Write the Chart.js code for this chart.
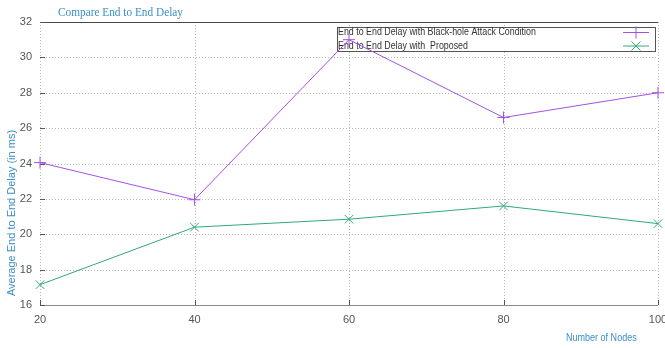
<!DOCTYPE html>
<html>
<head>
<meta charset="utf-8">
<script src="https://cdn.jsdelivr.net/npm/chart.js@4/dist/chart.umd.min.js"></script>
<style>
  html, body { margin: 0; padding: 0; background: #fff; }
  #wrap { width: 665px; height: 348px; position: relative; }
</style>
</head>
<body>
<div id="wrap"><canvas id="c" width="665" height="348"></canvas></div>
<script>
// Node counts along the x axis
const nodes = [20, 40, 60, 80, 100];
// Average end-to-end delay in ms
const blackHoleDelay = [24.05, 21.95, 31.0, 26.6, 28.0];
const proposedDelay = [17.15, 20.4, 20.85, 21.6, 20.6];
// Axis tick values
const xTicks = [20, 40, 60, 80, 100];
const yTicks = [16, 18, 20, 22, 24, 26, 28, 30, 32];

const seriesLabels = [
  'End to End Delay with Black-hole Attack Condition',
  'End to End Delay with  Proposed'
];
const purple = '#a451e4';
const green = '#2fa882';
const blue = '#3b8ec8';
const sans = '"Liberation Sans", Arial, sans-serif';

function pts(vals) { return nodes.map((n, i) => ({ x: n, y: vals[i] })); }

// text squeezed horizontally to get a condensed look
function narrowText(ctx, text, x, y, sx) {
  ctx.save();
  ctx.translate(x, y);
  ctx.scale(sx, 1);
  ctx.fillText(text, 0, 0);
  ctx.restore();
}

function drawMarker(ctx, style, x, y, r, color) {
  ctx.save();
  ctx.strokeStyle = color;
  ctx.lineWidth = 1;
  ctx.beginPath();
  if (style === 'cross') {
    ctx.moveTo(x - r, y); ctx.lineTo(x + r, y);
    ctx.moveTo(x, y - r); ctx.lineTo(x, y + r);
  } else {
    const d = r * 0.75;
    ctx.moveTo(x - d, y - d); ctx.lineTo(x + d, y + d);
    ctx.moveTo(x - d, y + d); ctx.lineTo(x + d, y - d);
  }
  ctx.stroke();
  ctx.restore();
}

const frame = {
  id: 'frame',
  beforeDatasetsDraw(chart) {
    const { ctx, chartArea: a, scales } = chart;
    ctx.save();
    // dotted grid
    ctx.strokeStyle = '#b8b8b8';
    ctx.lineWidth = 1;
    ctx.setLineDash([1, 2]);
    yTicks.forEach(v => {
      if (v === 16 || v === 32) return;
      const y = Math.round(scales.y.getPixelForValue(v)) + 0.5;
      ctx.beginPath(); ctx.moveTo(a.left, y); ctx.lineTo(a.right, y); ctx.stroke();
    });
    xTicks.forEach(v => {
      const x = Math.round(scales.x.getPixelForValue(v)) + 0.5;
      ctx.beginPath(); ctx.moveTo(x, a.top); ctx.lineTo(x, a.bottom); ctx.stroke();
    });
    ctx.setLineDash([]);
    // top and bottom borders
    ctx.strokeStyle = '#4a4a4a';
    ctx.beginPath(); ctx.moveTo(a.left, Math.round(a.top) + 0.5); ctx.lineTo(a.right, Math.round(a.top) + 0.5); ctx.stroke();
    ctx.strokeStyle = '#8a8a8a';
    ctx.beginPath(); ctx.moveTo(a.left, Math.round(a.bottom) + 0.5); ctx.lineTo(a.right, Math.round(a.bottom) + 0.5); ctx.stroke();
    // tick marks pointing inward
    ctx.strokeStyle = '#555';
    yTicks.forEach(v => {
      const y = Math.round(scales.y.getPixelForValue(v)) + 0.5;
      ctx.beginPath(); ctx.moveTo(a.left, y); ctx.lineTo(a.left + 5, y); ctx.stroke();
    });
    xTicks.forEach(v => {
      const x = Math.round(scales.x.getPixelForValue(v)) + 0.5;
      ctx.beginPath(); ctx.moveTo(x, a.bottom); ctx.lineTo(x, a.bottom - 5); ctx.stroke();
    });

    // legend box, drawn beneath the series lines
    const bx = 337.5, by = 27.5, bw = 318, bh = 24;
    ctx.fillStyle = '#fff';
    ctx.fillRect(bx, by, bw, bh);
    ctx.strokeStyle = '#555';
    ctx.lineWidth = 1;
    ctx.strokeRect(bx, by, bw, bh);
    const rows = [
      { label: chart.data.datasets[0].label, color: purple, style: 'cross', y: 32 },
      { label: chart.data.datasets[1].label, color: green, style: 'crossRot', y: 45.5 }
    ];
    ctx.font = '11.5px ' + sans;
    ctx.textBaseline = 'middle';
    ctx.textAlign = 'left';
    rows.forEach(r => {
      ctx.fillStyle = '#333';
      narrowText(ctx, r.label, 338, r.y, 0.77);
      ctx.strokeStyle = r.color;
      ctx.beginPath(); ctx.moveTo(623, r.y + 0.5); ctx.lineTo(649, r.y + 0.5); ctx.stroke();
      drawMarker(ctx, r.style, 636, r.y + 0.5, 6, r.color);
    });
    ctx.restore();
  },
  afterDraw(chart) {
    const { ctx } = chart;
    ctx.save();
    // chart title
    ctx.fillStyle = blue;
    ctx.font = '13px "Liberation Serif", "Times New Roman", serif';
    ctx.textBaseline = 'middle';
    ctx.textAlign = 'left';
    narrowText(ctx, 'Compare End to End Delay', 58, 13, 0.87);
    // axis titles
    ctx.font = '11px ' + sans;
    ctx.save();
    ctx.translate(12, 213);
    ctx.rotate(-Math.PI / 2);
    ctx.textAlign = 'center';
    ctx.fillText('Average End to End Delay (in ms)', 0, 0);
    ctx.restore();
    ctx.textAlign = 'left';
    narrowText(ctx, 'Number of Nodes', 566, 338, 0.82);
    ctx.restore();
  }
};

new Chart(document.getElementById('c'), {
  type: 'line',
  data: {
    datasets: [
      {
        label: seriesLabels[0],
        data: pts(blackHoleDelay),
        borderColor: purple,
        borderWidth: 1,
        pointStyle: 'cross',
        pointRadius: 6,
        pointBorderColor: purple,
        pointBorderWidth: 1,
        tension: 0,
        clip: false
      },
      {
        label: seriesLabels[1],
        data: pts(proposedDelay),
        borderColor: green,
        borderWidth: 1,
        pointStyle: 'crossRot',
        pointRadius: 6,
        pointBorderColor: green,
        pointBorderWidth: 1,
        tension: 0,
        clip: false
      }
    ]
  },
  options: {
    responsive: false,
    animation: false,
    devicePixelRatio: 1,
    layout: { padding: { top: 22, right: 5, left: 0, bottom: 0 } },
    plugins: { legend: { display: false }, title: { display: false }, tooltip: { enabled: false } },
    scales: {
      x: {
        type: 'linear',
        min: 20, max: 100,
        afterFit(s) { s.height = 43; s.paddingLeft = 0; s.paddingRight = 0; },
        afterBuildTicks(s) { s.ticks = xTicks.map(v => ({ value: v })); },
        grid: { display: false, drawTicks: false },
        border: { display: false },
        ticks: { color: '#555', font: { family: sans, size: 11 }, padding: 8, maxRotation: 0 }
      },
      y: {
        min: 16, max: 32,
        afterFit(s) { s.width = 40; s.paddingTop = 0; s.paddingBottom = 0; },
        afterBuildTicks(s) { s.ticks = yTicks.map(v => ({ value: v })); },
        grid: { display: false, drawTicks: false },
        border: { display: false },
        ticks: { color: '#555', font: { family: sans, size: 11 }, padding: 8 }
      }
    }
  },
  plugins: [frame]
});
</script>
</body>
</html>
